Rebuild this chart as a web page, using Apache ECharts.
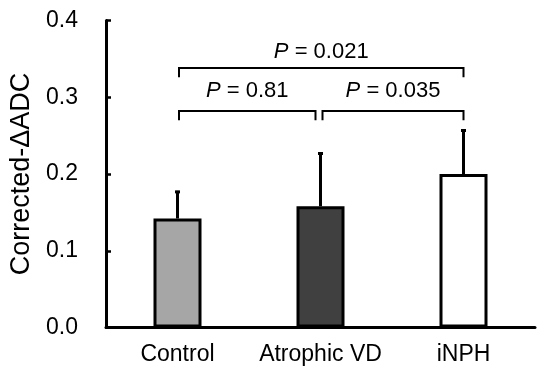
<!DOCTYPE html>
<html><head><meta charset="utf-8">
<script src="https://cdn.jsdelivr.net/npm/echarts@6/dist/echarts.min.js"></script>
<style>html,body{margin:0;padding:0;background:#fff}#c{width:556px;height:379px}</style>
</head><body><div id="c"></div>
<script>
const categories = ['Control', 'Atrophic VD', 'iNPH'];
const means = [0.142, 0.158, 0.200];
const errUpper = [0.036, 0.070, 0.058];
const yTicks = [0.0, 0.1, 0.2, 0.3, 0.4];
const bracketFrom = [0, 1, 0];
const bracketTo = [1, 2, 2];
const bracketLevel = [0.282, 0.282, 0.338];
const pValues = ['0.81', '0.035', '0.021'];
const pLabelLevel = [0.3086, 0.3086, 0.3585];

const FONT = 'Liberation Sans, Arial, sans-serif';
const barColors = ['#a6a6a6', '#404040', '#ffffff'];

const chart = echarts.init(document.getElementById('c'), null, {renderer: 'canvas'});

const option = {
  animation: false,
  backgroundColor: '#fff',
  grid: {left: 106, right: 21, top: 20.5, bottom: 51.5, containLabel: false},
  xAxis: {
    type: 'category', data: categories,
    axisLine: {lineStyle: {color: '#000', width: 3}},
    axisTick: {show: false},
    axisLabel: {color: '#000', fontSize: 23, fontFamily: FONT, margin: 16, interval: 0, hideOverlap: false}
  },
  yAxis: {
    type: 'value', min: yTicks[0], max: yTicks[yTicks.length - 1], interval: 0.1,
    name: 'Corrected-ΔADC', nameLocation: 'middle', nameGap: 68,
    nameTextStyle: {color: '#000', fontSize: 27, fontFamily: FONT},
    axisLine: {show: true, lineStyle: {color: '#000', width: 3}},
    axisTick: {show: true, inside: true, length: 5, lineStyle: {color: '#000', width: 2.5}},
    axisLabel: {color: '#000', fontSize: 23, fontFamily: FONT, margin: 28, formatter: v => v.toFixed(1)},
    splitLine: {show: false}
  },
  series: [
    {
      type: 'bar', barWidth: 48, z: 2,
      data: means.map((v, i) => ({value: v, itemStyle: {color: barColors[i], borderColor: '#000', borderWidth: 3}}))
    },
    {
      type: 'custom', z: 3,
      data: means.map((v, i) => [i, v, v + errUpper[i]]),
      encode: {x: 0, y: [1, 2]},
      renderItem: function (params, api) {
        const x = api.value(0);
        const b = api.coord([x, api.value(1)]);
        const t = api.coord([x, api.value(2)]);
        return {
          type: 'group', children: [
            {type: 'line', shape: {x1: b[0], y1: b[1], x2: t[0], y2: t[1]}, style: {stroke: '#000', lineWidth: 3}},
            {type: 'line', shape: {x1: t[0] - 2.5, y1: t[1] + 1, x2: t[0] + 2.5, y2: t[1] + 1}, style: {stroke: '#000', lineWidth: 3}}
          ]
        };
      }
    },
    {
      type: 'custom', z: 4,
      data: bracketFrom.map((f, i) => [f, bracketLevel[i], bracketTo[i], pLabelLevel[i]]),
      encode: {x: 0, y: 1},
      renderItem: function (params, api) {
        const i = params.dataIndex;
        const f = api.value(0), to = api.value(2), lvl = api.value(1), ll = api.value(3);
        const a = api.coord([f, lvl]);
        const b = api.coord([to, lvl]);
        const leg = api.coord([f, lvl - 0.012]);
        const lab = api.coord([f, ll]);
        let x1 = a[0] + 1.5, x2 = b[0];
        if (f === 1) x1 = a[0] + 2;
        if (to === 1) x2 = b[0] - 5;
        return {
          type: 'group', children: [
            {type: 'polyline', shape: {points: [[x1, leg[1]], [x1, a[1]], [x2, a[1]], [x2, leg[1]]]},
             style: {stroke: '#000', lineWidth: 2, fill: null}},
            {type: 'text', style: {
              text: '{i|P} = ' + pValues[i], x: (x1 + x2) / 2, y: lab[1],
              align: 'center', verticalAlign: 'middle',
              fontSize: 22, fontFamily: FONT, fill: '#000',
              rich: {i: {fontStyle: 'italic', fontSize: 22, fontFamily: FONT, fill: '#000'}}
            }}
          ]
        };
      }
    }
  ]
};
chart.setOption(option);
</script>
</body></html>
